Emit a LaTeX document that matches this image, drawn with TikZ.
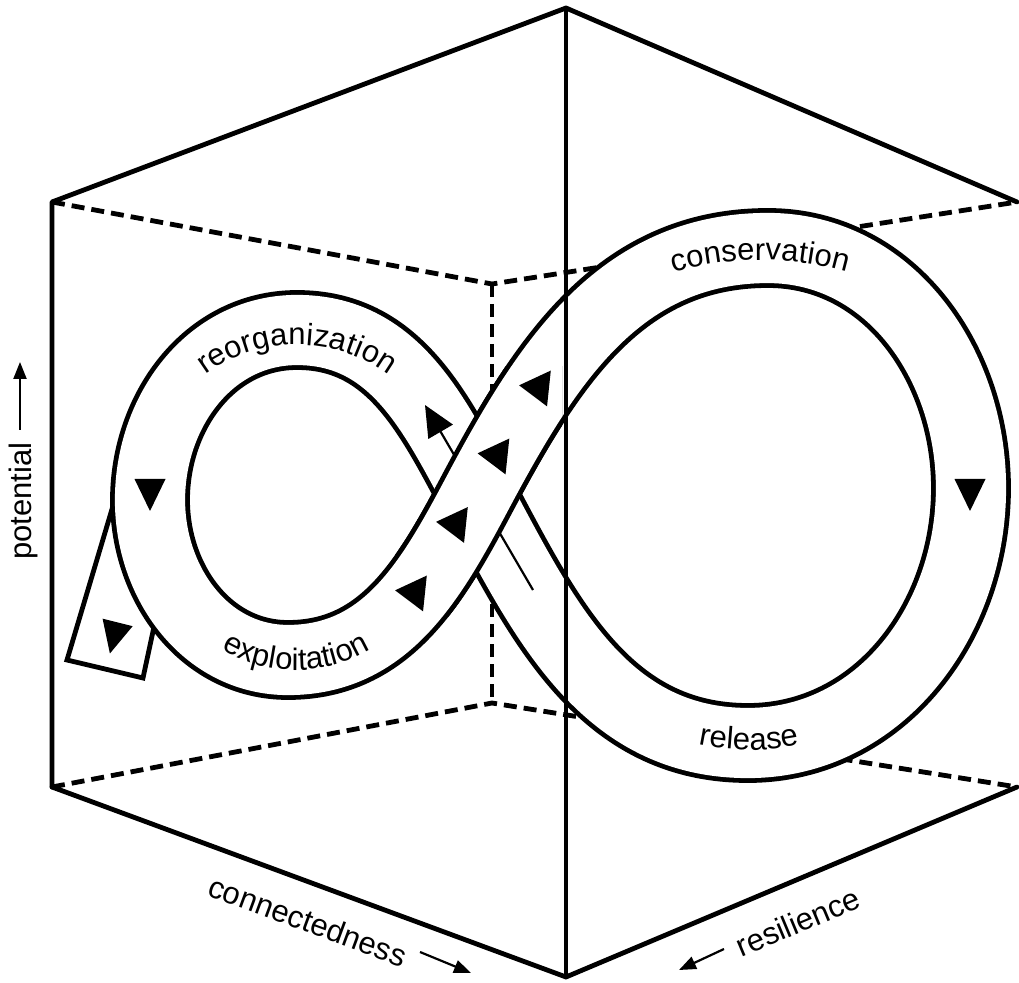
\documentclass[tikz,border=0pt]{standalone}
\usepackage{fontspec}
\setmainfont{Liberation Sans}
\usetikzlibrary{arrows.meta,decorations.text}
\newcommand\lblfont{\fontsize{15.5}{18}\selectfont}
\newcommand\fullband{(BL) to[out=0,in=242] (X) to[out=62,in=180] (TR) to[out=0,in=90] (RR) to[out=-90,in=0] (BR) to[out=180,in=-62] (X) to[out=118,in=0] (TL) to[out=180,in=90] (LL) to[out=-90,in=180] (BL) -- cycle}
\newcommand\frontband{(BL) to[out=0,in=242] (X) to[out=62,in=180] (TR)}
\begin{document}
\begin{tikzpicture}[x=0.5pt,y=0.5pt,
  cubeline/.style={line width=2.4pt, line cap=round, line join=round},
  cubehidden/.style={line width=2.4pt, dash pattern=on 6.5pt off 3.5pt},
  bandblack/.style={line width=39.9pt, black, line join=round},
  bandwhite/.style={line width=35.1pt, white, line join=round},
  thinarrow/.style={line width=1.1pt, -{Triangle[length=8.5pt,width=6.5pt]}},
  bigarrow/.style={line width=1.1pt, -{Triangle[length=15.5pt,width=14pt]}},
  tri/.pic={\fill (-15.5,15) -- (15.5,15) -- (0,-17) -- cycle;},
  trib/.pic={\fill (-18,14) -- (18,14) -- (0,-16) -- cycle;},
  lab/.style={font=\lblfont, inner sep=0pt},
  curvedlab/.style={decorate, decoration={text along path, text align=center, text={|\lblfont|#1}}},
]
\useasboundingbox (0,0) rectangle (1019,982);
% cube corners
\coordinate (LT) at (52,780);
\coordinate (RT) at (1017,780);
\coordinate (LB) at (52,195);
\coordinate (RB) at (1017,195);
\coordinate (TopV) at (566,974);
\coordinate (BotV) at (566,5);
\coordinate (BkT) at (492,698);
\coordinate (BkB) at (492,279);
% band centre line
\coordinate (BL) at (288,322);
\coordinate (X) at (477,488);
\coordinate (TR) at (768,734);
\coordinate (RR) at (971,494);
\coordinate (BR) at (748,239);
\coordinate (TL) at (297,652);
\coordinate (LL) at (150,482);
% exit strip
\coordinate (sA) at (67,322);
\coordinate (sB) at (143,304);
\coordinate (sC) at (176.6,460.5);
\coordinate (sD) at (138,560);
% arrows
\coordinate (ta1) at (533,392);
\coordinate (ta2) at (425,577);
\coordinate (pa1) at (20,552);
\coordinate (pa2) at (20,620);
\coordinate (ca1) at (420,30);
\coordinate (ca2) at (471,9);
\coordinate (ra1) at (724,33);
\coordinate (ra2) at (679,12);

% hidden edges
\draw[cubehidden] (LT) -- (BkT) -- (RT);
\draw[cubehidden] (LB) -- (BkB) -- (RB);
\draw[cubehidden] (BkT) -- (BkB);

% exit strip
\draw[line width=2.4pt, fill=white, line join=miter] (sA) -- (sB) -- (sC) -- (sD) -- cycle;

% band
\draw[bandblack] \fullband;
\draw[bandwhite] \fullband;

% thin arrow in back strand
\draw[bigarrow] (ta1) -- (ta2);

% front strand over the crossing
\begin{scope}
  \clip (395,365) rectangle (562,615);
  \draw[bandblack, line cap=butt] \frontband;
  \draw[bandwhite, line cap=butt] \frontband;
\end{scope}

% direction triangles
\path (150,488) pic{tri};
\path (970,488) pic{tri};
\path (114,345) pic[rotate=-14]{tri};
\path (535,595) pic[rotate=-96]{trib};
\path (493.5,527) pic[rotate=-96]{trib};
\path (452,458.5) pic[rotate=-96]{trib};
\path (411,390) pic[rotate=-96]{trib};

% curved labels
\path[curvedlab=reorganization] (297,481) ++(160:156) arc[start angle=160, end angle=20, radius=156];
\path[curvedlab=exploitation] (296,459) ++(200:147) arc[start angle=200, end angle=340, radius=147];
\path[curvedlab=conservation] (760,407) ++(125:315) arc[start angle=125, end angle=55, radius=315];
\path[curvedlab=release] (749,482) ++(235:250) arc[start angle=235, end angle=305, radius=250];

% axis labels
\node[lab, rotate=90] (pot) at (23,481) {potential};
\node[lab, rotate=-20.3] (conn) at (308,61) {connectedness};
\node[lab, rotate=22.7] (resi) at (798,60) {resilience};
\draw[thinarrow] (pa1) -- (pa2);
\draw[thinarrow] (ca1) -- (ca2);
\draw[thinarrow] (ra1) -- (ra2);

% visible cube edges
\draw[cubeline] (LB) -- (LT) -- (TopV) -- (RT);
\draw[cubeline] (LB) -- (BotV) -- (RB);
\draw[cubeline] (TopV) -- (BotV);
\end{tikzpicture}
\end{document}
